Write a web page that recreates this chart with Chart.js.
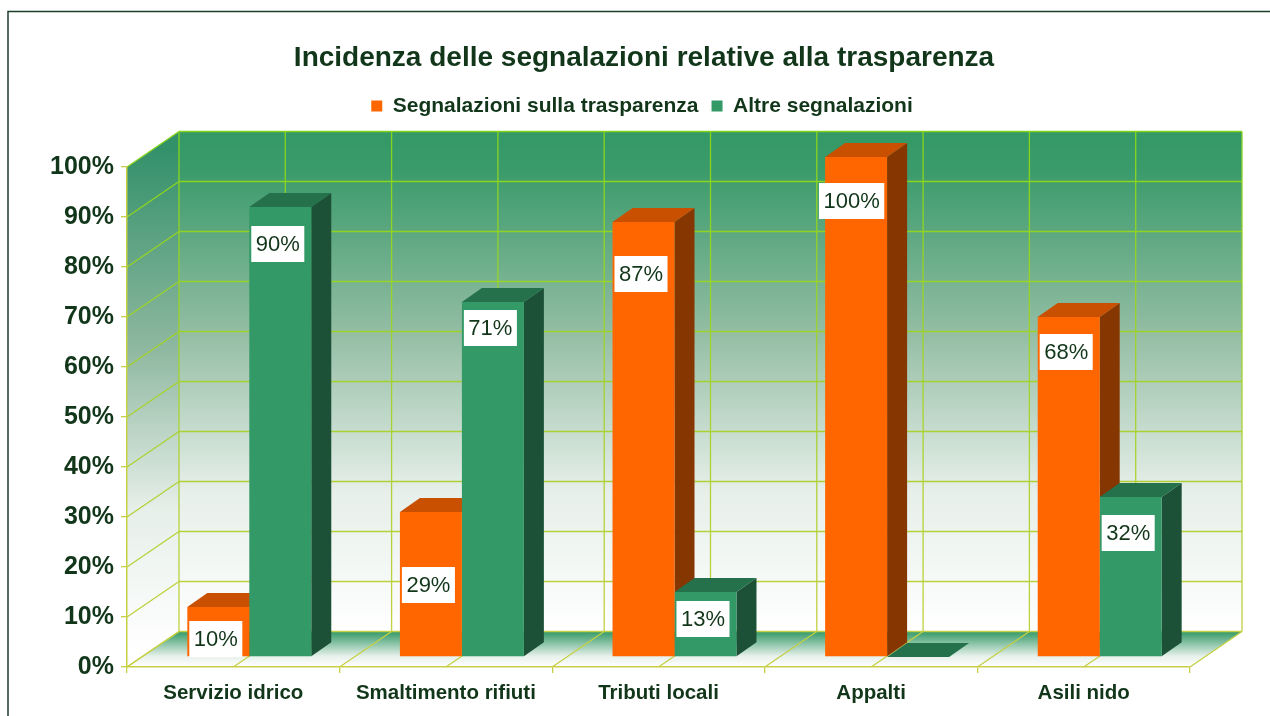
<!DOCTYPE html>
<html>
<head>
<meta charset="utf-8">
<title>Incidenza delle segnalazioni</title>
<script src="https://cdn.jsdelivr.net/npm/chart.js@4"></script>
<style>
  html, body { margin: 0; padding: 0; background: #fff; }
  canvas { display: block; }
</style>
</head>
<body>
<canvas id="chart_1" width="1270" height="716"></canvas>
<script>
var categories = ['Servizio idrico', 'Smaltimento rifiuti', 'Tributi locali', 'Appalti', 'Asili nido'];
var trasparenza = [10, 29, 87, 100, 68];
var altre = [90, 71, 13, 0, 32];
var yTicks = [0, 10, 20, 30, 40, 50, 60, 70, 80, 90, 100];

// how far below the bar top each value box sits (they are not regular in the original)
var boxDropOrange = [32, 73, 52, 44, 35];
var boxDropGreen = [37, 26, 27, 0, 36];

var darkText = '#12361a';
var tickColor = '#c6cf45';

// room depth, bar offset inside the room and bar depth
var wallX = 52, wallY = 35.5;
var barShiftX = 16, barShiftY = -10;
var barDepthX = 20, barDepthY = -14;

var barColors = [
  {front: '#ff6600', top: '#c95000', side: '#863600'},
  {front: '#339966', top: '#24714b', side: '#1c5137'}
];

function poly(ctx, pts, fill) {
  ctx.beginPath();
  ctx.moveTo(pts[0][0], pts[0][1]);
  for (var i = 1; i < pts.length; i++) {
    ctx.lineTo(pts[i][0], pts[i][1]);
  }
  ctx.closePath();
  ctx.fillStyle = fill;
  ctx.fill();
}

function seg(ctx, x1, y1, x2, y2) {
  ctx.beginPath();
  ctx.moveTo(x1, y1);
  ctx.lineTo(x2, y2);
  ctx.stroke();
}

// frame, walls, floor and their grid
var roomPlugin = {
  id: 'room',
  beforeInit: function(chart) {
    // extra gap under the legend
    var fit = chart.legend.fit;
    chart.legend.fit = function() {
      fit.call(this);
      this.height += 40.4;
    };
  },
  afterLayout: function(chart) {
    // title and legend are not centred on the canvas in the original
    chart.titleBlock.left += 29;
    chart.titleBlock.right += 29;
    chart.legend.left += 27;
    chart.legend.right += 27;
  },
  beforeDraw: function(chart) {
    var ctx = chart.ctx;
    var area = chart.chartArea;
    var y = chart.scales.y;
    var l = area.left, r = area.right, t = area.top, b = area.bottom;

    ctx.save();
    ctx.strokeStyle = '#1f3d2c';
    ctx.lineWidth = 1.5;
    ctx.beginPath();
    ctx.moveTo(8, 716);
    ctx.lineTo(8, 11.5);
    ctx.lineTo(1270, 11.5);
    ctx.stroke();

    var grad = ctx.createLinearGradient(0, t - wallY, 0, b - wallY);
    grad.addColorStop(0, '#339966');
    grad.addColorStop(0.08, '#3b9b6b');
    grad.addColorStop(0.4, '#93bda3');
    grad.addColorStop(0.72, '#e6efe9');
    grad.addColorStop(1, '#ffffff');
    poly(ctx, [[l + wallX, t - wallY], [r + wallX, t - wallY], [r + wallX, b - wallY], [l + wallX, b - wallY]], grad);

    var sideGrad = ctx.createLinearGradient(0, t - wallY / 2, 0, b - wallY / 2);
    sideGrad.addColorStop(0, '#33916a');
    sideGrad.addColorStop(0.4, '#8fb8a0');
    sideGrad.addColorStop(0.72, '#e6efe9');
    sideGrad.addColorStop(1, '#ffffff');
    poly(ctx, [[l, t], [l + wallX, t - wallY], [l + wallX, b - wallY], [l, b]], sideGrad);

    var floorGrad = ctx.createLinearGradient(0, b - wallY, 0, b);
    floorGrad.addColorStop(0, '#339966');
    floorGrad.addColorStop(0.7, '#e8f1ec');
    floorGrad.addColorStop(1, '#ffffff');
    poly(ctx, [[l, b], [r, b], [r + wallX, b - wallY], [l + wallX, b - wallY]], floorGrad);

    // the grid is bright green high up and goes olive towards the floor
    var lineGrad = ctx.createLinearGradient(0, t - wallY, 0, b);
    lineGrad.addColorStop(0, '#84d41c');
    lineGrad.addColorStop(0.5, '#a6d22e');
    lineGrad.addColorStop(1, tickColor);
    ctx.strokeStyle = lineGrad;
    ctx.lineWidth = 1.3;
    yTicks.forEach(function(v) {
      var py = y.getPixelForValue(v);
      seg(ctx, l, py, l + wallX, py - wallY);
      seg(ctx, l + wallX, py - wallY, r + wallX, py - wallY);
    });
    for (var i = 0; i <= 10; i++) {
      var px = l + (r - l) * i / 10;
      seg(ctx, px + wallX, t - wallY, px + wallX, b - wallY);
      seg(ctx, px, b, px + wallX, b - wallY);
    }
    ctx.restore();
  },
  // sides and tops first, the library then paints the fronts on top
  beforeDatasetsDraw: function(chart) {
    var ctx = chart.ctx;
    ctx.save();
    ctx.translate(barShiftX, barShiftY);
    chart.data.datasets.forEach(function(ds, d) {
      chart.getDatasetMeta(d).data.forEach(function(bar) {
        var half = bar.width / 2;
        var x1 = bar.x - half, x2 = bar.x + half;
        poly(ctx, [[x2, bar.y], [x2 + barDepthX, bar.y + barDepthY], [x2 + barDepthX, bar.base + barDepthY], [x2, bar.base]], barColors[d].side);
        poly(ctx, [[x1, bar.y], [x2, bar.y], [x2 + barDepthX, bar.y + barDepthY], [x1 + barDepthX, bar.y + barDepthY]], barColors[d].top);
      });
    });
    ctx.restore();
    ctx.save();
    ctx.translate(barShiftX, barShiftY);
  },
  afterDatasetsDraw: function(chart) {
    var ctx = chart.ctx;
    ctx.restore();

    // value boxes
    ctx.save();
    ctx.font = '22px "Liberation Sans", Arial, sans-serif';
    ctx.textAlign = 'center';
    ctx.textBaseline = 'middle';
    chart.data.datasets.forEach(function(ds, d) {
      var drops = d === 0 ? boxDropOrange : boxDropGreen;
      chart.getDatasetMeta(d).data.forEach(function(bar, i) {
        if (ds.data[i] === 0) {
          return;
        }
        var txt = ds.data[i] + '%';
        var w = ctx.measureText(txt).width + 9;
        var cx = bar.x + barShiftX - 2.5;
        if (ds.data[i] === 100) {
          cx = cx - 2;
        }
        var cy = bar.y + barShiftY + drops[i];
        ctx.fillStyle = '#ffffff';
        ctx.fillRect(cx - w / 2, cy - 18, w, 36);
        ctx.fillStyle = darkText;
        ctx.fillText(txt, cx, cy + 1);
      });
    });
    ctx.restore();
  }
};

var ctx_1 = document.getElementById('chart_1').getContext('2d');
var chart_1 = new Chart(ctx_1, {
  type: 'bar',
  data: {
    labels: categories,
    datasets: [{
      label: 'Segnalazioni sulla trasparenza',
      data: trasparenza,
      backgroundColor: barColors[0].front,
      clip: false
    }, {
      label: 'Altre segnalazioni',
      data: altre,
      backgroundColor: barColors[1].front,
      clip: false
    }]
  },
  plugins: [roomPlugin],
  options: {
    responsive: false,
    animation: false,
    categoryPercentage: 0.583,
    barPercentage: 1,
    layout: {
      padding: {left: 40, right: 80, top: 0, bottom: 0}
    },
    plugins: {
      tooltip: {enabled: false},
      title: {
        display: true,
        text: 'Incidenza delle segnalazioni relative alla trasparenza',
        color: darkText,
        font: {family: '"Liberation Sans", Arial, sans-serif', size: 28, weight: 'bold'},
        padding: {top: 41, bottom: 8}
      },
      legend: {
        display: true,
        labels: {
          color: darkText,
          font: {family: '"Liberation Sans", Arial, sans-serif', size: 21, weight: 'bold'},
          boxWidth: 11,
          boxHeight: 11,
          padding: 13
        }
      }
    },
    scales: {
      x: {
        afterFit: function(scale) { scale.height = 49; },
        grid: {drawOnChartArea: false, color: tickColor, tickLength: 6, lineWidth: 1.3},
        border: {color: tickColor, width: 1.5},
        ticks: {
          color: darkText,
          autoSkip: false,
          maxRotation: 0,
          padding: 8,
          font: {family: '"Liberation Sans", Arial, sans-serif', size: 20.5, weight: 'bold'}
        }
      },
      y: {
        min: 0,
        max: 100,
        afterFit: function(scale) { scale.width = 87; },
        grid: {drawOnChartArea: false, color: tickColor, tickLength: 6, lineWidth: 1.3},
        border: {color: tickColor, width: 1.5},
        ticks: {
          stepSize: 10,
          color: darkText,
          padding: 7,
          font: {family: '"Liberation Sans", Arial, sans-serif', size: 25, weight: 'bold'},
          callback: function(v) { return v + '%'; }
        }
      }
    }
  }
});
</script>
</body>
</html>
